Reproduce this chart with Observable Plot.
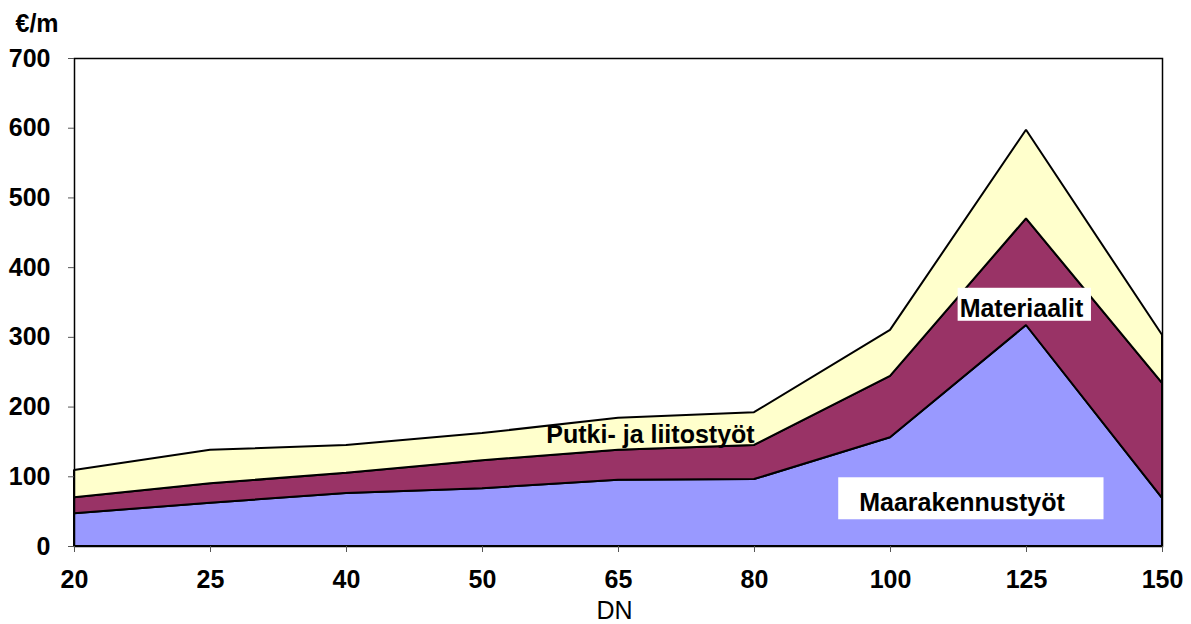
<!DOCTYPE html>
<html>
<head>
<meta charset="utf-8">
<script src="https://cdn.jsdelivr.net/npm/d3@7"></script>
<script src="https://cdn.jsdelivr.net/npm/@observablehq/plot@0.6"></script>
<style>
  html, body { margin: 0; padding: 0; background: white; }
</style>
</head>
<body>
<div id="chart"></div>
<script>
// Categories (DN)
const categories = ["20", "25", "40", "50", "65", "80", "100", "125", "150"];
// Series values (€/m), stacked bottom to top
const maarakennustyot = [47, 62, 76, 83, 95, 96, 156, 317, 69];
const materiaalit     = [23, 28, 29, 40, 43, 49, 88, 153, 165];
const putkiJaLiitos   = [39, 48, 40, 39, 46, 47, 66, 127, 69];
const seriesNames = ["Maarakennustyöt", "Materiaalit", "Putki- ja liitostyöt"];
const seriesColors = ["#9999FF", "#993366", "#FFFFCC"];
const yTicks = [0, 100, 200, 300, 400, 500, 600, 700];
// In-chart labels (x as category position, y as value)
const labelText = ["Putki- ja liitostyöt", "Materiaalit", "Maarakennustyöt"];
const labelX = [4.235, 6.963, 6.526];
const labelY = [160, 341, 62];

const seriesValues = [maarakennustyot, materiaalit, putkiJaLiitos];
const data = [];
seriesNames.forEach((name, s) => {
  categories.forEach((c, i) => data.push({i, series: name, value: seriesValues[s][i]}));
});
const labels = labelText.map((t, k) => ({text: t, x: labelX[k], y: labelY[k]}));
// white box padding around some labels: left, right, top, bottom
const boxPad = {
  "Materiaalit": [2, 7, 6, -1],
  "Maarakennustyöt": [21, 38, 11, 3]
};

const fontFamily = "'Liberation Sans', Arial, sans-serif";

const plot = Plot.plot({
  width: 1191,
  height: 624,
  marginLeft: 74,
  marginRight: 29,
  marginTop: 58,
  marginBottom: 78,
  style: {fontFamily, fontSize: "25px", fontWeight: "bold", background: "white", color: "black"},
  x: {type: "linear", domain: [0, categories.length - 1], label: null},
  y: {domain: [0, 700], label: null},
  color: {domain: seriesNames, range: seriesColors},
  marks: [
    Plot.areaY(data, {x: "i", y: "value", fill: "series", z: "series", stroke: "black", strokeWidth: 2, strokeLinejoin: "miter"}),
    Plot.frame({stroke: "black", strokeWidth: 1.5}),
    Plot.axisY({ticks: yTicks, tickSize: 6, tickPadding: 18, label: null, stroke: "#555", fontWeight: "bold", fontSize: 25}),
    Plot.axisX({ticks: d3.range(categories.length), tickFormat: i => categories[i], tickSize: 6, tickPadding: 18, label: null, stroke: "#555", fontWeight: "bold", fontSize: 25}),
    Plot.text(labels, {x: "x", y: "y", text: "text", fontSize: 25, fontWeight: "bold", fill: "black", lineAnchor: "middle"}),
    Plot.text(["€/m"], {frameAnchor: "top-left", dx: -59, dy: -35, textAnchor: "start", lineAnchor: "middle", fontSize: 25, fontWeight: "bold", fill: "black"}),
    Plot.text(["DN"], {frameAnchor: "bottom", dx: -4, dy: 64, lineAnchor: "middle", fontSize: 25, fontWeight: "normal", fill: "black"})
  ]
});

document.getElementById("chart").appendChild(plot);

// White boxes behind selected labels
plot.querySelectorAll("text").forEach(t => {
  const pad = boxPad[t.textContent];
  if (!pad) return;
  const b = t.getBBox();
  const tr = t.getAttribute("transform");
  const r = document.createElementNS("http://www.w3.org/2000/svg", "rect");
  r.setAttribute("x", b.x - pad[0]);
  r.setAttribute("y", b.y - pad[2]);
  r.setAttribute("width", b.width + pad[0] + pad[1]);
  r.setAttribute("height", b.height + pad[2] + pad[3]);
  r.setAttribute("fill", "white");
  if (tr) r.setAttribute("transform", tr);
  t.parentNode.insertBefore(r, t);
});
</script>
</body>
</html>
